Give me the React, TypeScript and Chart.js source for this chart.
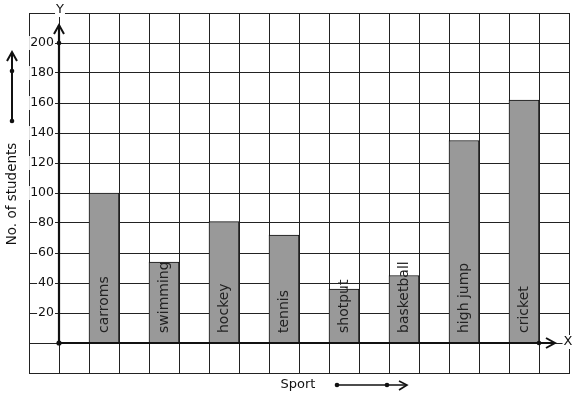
import React, { useEffect, useRef } from "react";
import { Chart, registerables } from "chart.js";

Chart.register(...registerables);

const sports = ["carroms", "swimming", "hockey", "tennis", "shotput", "basketball", "high jump", "cricket"];
const students = [100, 54, 81, 72, 36, 45, 135, 162];
const yTickValues = [20, 40, 60, 80, 100, 120, 140, 160, 180, 200];
const yMin = -20;
const yMax = 220;
const yStep = 20;
const xTitle = "Sport";
const yTitle = "No. of students";

// graph-paper slots: an empty cell before each sport, plus a leading and trailing cell
const slotLabels: string[] = ["", ...sports.flatMap((s) => ["", s]), ""];
const slotValues: (number | null)[] = [null, ...students.flatMap((v) => [null, v]), null];

const FONT = "DejaVu Sans";
const INK = "#111";

function dot(ctx: CanvasRenderingContext2D, x: number, y: number, r: number) {
  ctx.beginPath();
  ctx.arc(x, y, r, 0, Math.PI * 2);
  ctx.fill();
}

function textBox(ctx: CanvasRenderingContext2D, text: string, x: number, y: number, align: CanvasTextAlign) {
  ctx.textAlign = align;
  ctx.textBaseline = "middle";
  const w = ctx.measureText(text).width;
  const left = align === "right" ? x - w : align === "center" ? x - w / 2 : x;
  ctx.fillStyle = "#fff";
  ctx.fillRect(left - 1, y - 7, w + 2, 14);
  ctx.fillStyle = INK;
  ctx.fillText(text, x, y);
}

const overlay = {
  id: "overlay",
  afterDatasetsDraw(chart: any) {
    const ctx: CanvasRenderingContext2D = chart.ctx;
    const xs = chart.scales.x;
    const ys = chart.scales.y;
    const cell = (xs.right - xs.left) / slotLabels.length;
    const ox = xs.left + cell;
    const oy = ys.getPixelForValue(0);
    const topY = ys.getPixelForValue(200);
    const rightX = xs.right - cell;
    ctx.save();
    ctx.strokeStyle = INK;
    ctx.fillStyle = INK;
    ctx.lineWidth = 2.2;
    // y axis
    const yTip = ys.getPixelForValue(212);
    ctx.beginPath();
    ctx.moveTo(ox, oy);
    ctx.lineTo(ox, yTip);
    ctx.stroke();
    ctx.lineWidth = 2;
    ctx.beginPath();
    ctx.moveTo(ox - 5, yTip + 9);
    ctx.lineTo(ox, yTip);
    ctx.lineTo(ox + 5, yTip + 9);
    ctx.stroke();
    // x axis
    const xTip = rightX + 16;
    ctx.lineWidth = 2.2;
    ctx.beginPath();
    ctx.moveTo(ox, oy);
    ctx.lineTo(xTip, oy);
    ctx.stroke();
    ctx.lineWidth = 2;
    ctx.beginPath();
    ctx.moveTo(xTip - 9, oy - 5);
    ctx.lineTo(xTip, oy);
    ctx.lineTo(xTip - 9, oy + 5);
    ctx.stroke();
    dot(ctx, ox, oy, 2.6);
    dot(ctx, ox, topY, 2.3);
    dot(ctx, rightX, oy, 2.3);

    // axis letters
    ctx.font = `13px ${FONT}`;
    textBox(ctx, "Y", ox + 1, ys.top - 3, "center");
    textBox(ctx, "X", xs.right - 1, oy - 1, "center");

    // y tick labels
    ctx.font = `12.5px ${FONT}`;
    for (const v of yTickValues) {
      textBox(ctx, String(v), ox - 5, ys.getPixelForValue(v), "right");
    }

    // bar labels
    ctx.font = `14px ${FONT}`;
    ctx.fillStyle = "#222";
    ctx.textAlign = "left";
    ctx.textBaseline = "middle";
    sports.forEach((s, i) => {
      const px = xs.getPixelForValue(2 * i + 2);
      ctx.save();
      ctx.translate(px, oy - 10);
      ctx.rotate(-Math.PI / 2);
      ctx.fillText(s, 0, 0);
      ctx.restore();
    });

    // x title with arrow
    ctx.fillStyle = INK;
    ctx.font = `13px ${FONT}`;
    ctx.textAlign = "center";
    ctx.textBaseline = "middle";
    const ty = xs.bottom + 12;
    ctx.fillText(xTitle, 298, ty);
    ctx.lineWidth = 1.6;
    ctx.beginPath();
    ctx.moveTo(337, ty);
    ctx.lineTo(406, ty);
    ctx.stroke();
    ctx.beginPath();
    ctx.moveTo(399, ty - 4);
    ctx.lineTo(407, ty);
    ctx.lineTo(399, ty + 5);
    ctx.stroke();
    dot(ctx, 337, ty, 2.3);
    dot(ctx, 387, ty, 2.3);

    // y title with arrow
    ctx.font = `13.5px ${FONT}`;
    ctx.save();
    ctx.translate(12, 194);
    ctx.rotate(-Math.PI / 2);
    ctx.fillText(yTitle, 0, 0);
    ctx.restore();
    ctx.lineWidth = 2;
    ctx.beginPath();
    ctx.moveTo(12, 121);
    ctx.lineTo(12, 53);
    ctx.stroke();
    ctx.beginPath();
    ctx.moveTo(7, 61);
    ctx.lineTo(12, 52);
    ctx.lineTo(17, 61);
    ctx.stroke();
    dot(ctx, 12, 121, 2.3);
    dot(ctx, 12, 71, 2.3);
    ctx.restore();
  },
};

export default function App() {
  const ref = useRef<HTMLCanvasElement | null>(null);
  useEffect(() => {
    if (!ref.current) return;
    const chart = new Chart(ref.current, {
      type: "bar",
      data: {
        labels: slotLabels,
        datasets: [
          {
            data: slotValues,
            backgroundColor: "#999999",
            borderColor: "#111",
            borderWidth: 1,
            barPercentage: 1,
            categoryPercentage: 1,
          },
        ],
      },
      options: {
        responsive: false,
        animation: false,
        layout: { padding: { left: 29, top: 13, right: 8, bottom: 26 } },
        plugins: { legend: { display: false }, tooltip: { enabled: false } },
        scales: {
          x: {
            type: "category",
            offset: true,
            ticks: { display: false },
            grid: { color: "#222", lineWidth: 1, drawTicks: false, offset: true },
            border: { color: "#222", width: 1 },
          },
          y: {
            type: "linear",
            min: yMin,
            max: yMax,
            ticks: { display: false, stepSize: yStep },
            grid: { color: "#222", lineWidth: 1, drawTicks: false },
            border: { color: "#222", width: 1 },
          },
        },
      },
      plugins: [overlay],
    });
    return () => chart.destroy();
  }, []);
  return (
    <canvas
      ref={ref}
      width={577}
      height={399}
      style={{ position: "absolute", left: 0, top: 0, width: 577, height: 399 }}
    />
  );
}
